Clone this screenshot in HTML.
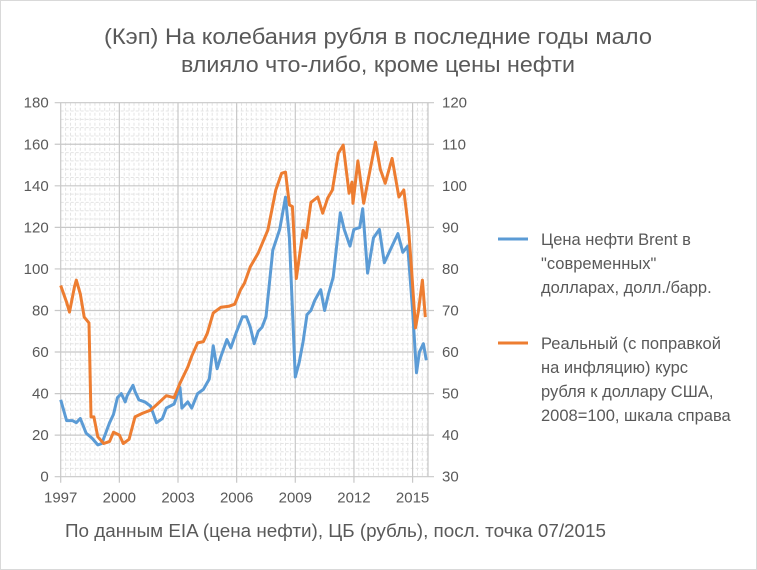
<!DOCTYPE html>
<html><head><meta charset="utf-8"><style>
body{margin:0;background:#fff;}
svg{display:block;font-family:"Liberation Sans","DejaVu Sans",sans-serif;}
</style></head><body>
<svg id="c" width="757" height="570" viewBox="0 0 757 570">
<rect x="0.5" y="0.5" width="756" height="569" fill="#fff" stroke="#d9d9d9"/>
<text x="378" y="44" text-anchor="middle" font-size="22.5" textLength="548" lengthAdjust="spacingAndGlyphs" fill="#595959">(Кэп) На колебания рубля в последние годы мало</text>
<text x="378" y="72" text-anchor="middle" font-size="22.5" textLength="394" lengthAdjust="spacingAndGlyphs" fill="#595959">влияло что-либо, кроме цены нефти</text>
<g id="grid"></g>
<g id="axes"></g>
<g id="series"></g>
<g>
<g>
<line x1="498" y1="239" x2="528" y2="239" stroke="#5b9bd5" stroke-width="3"/>
<text font-size="16.5" fill="#595959"><tspan x="541" y="245">Цена нефти Brent в</tspan><tspan x="541" y="269">"современных"</tspan><tspan x="541" y="293">долларах, долл./барр.</tspan></text>
</g>
<g>
<line x1="498" y1="343" x2="528" y2="343" stroke="#ed7d31" stroke-width="3"/>
<text font-size="16.5" fill="#595959"><tspan x="541" y="349">Реальный (с поправкой</tspan><tspan x="541" y="373">на инфляцию) курс</tspan><tspan x="541" y="397">рубля к доллару США,</tspan><tspan x="541" y="421">2008=100, шкала справа</tspan></text>
</g>
</g>
<text x="65" y="537" font-size="18" textLength="541" lengthAdjust="spacingAndGlyphs" fill="#595959">По данным EIA (цена нефти), ЦБ (рубль), посл. точка 07/2015</text>
</svg>
<script>
const leftTicks=[0,20,40,60,80,100,120,140,160,180];
const rightTicks=[30,40,50,60,70,80,90,100,110,120];
const yearTicks=[1997,2000,2003,2006,2009,2012,2015];
const brentT=[1997.0,1997.3,1997.6,1997.8,1998.0,1998.3,1998.6,1998.9,1999.1,1999.3,1999.5,1999.7,1999.9,2000.1,2000.3,2000.4,2000.7,2000.8,2001.0,2001.3,2001.6,2001.9,2002.2,2002.4,2002.8,2003.1,2003.2,2003.5,2003.7,2004.0,2004.3,2004.6,2004.8,2005.0,2005.2,2005.5,2005.7,2006.0,2006.3,2006.5,2006.7,2006.9,2007.1,2007.3,2007.5,2007.85,2008.2,2008.5,2008.7,2009.0,2009.2,2009.4,2009.6,2009.8,2010.0,2010.3,2010.5,2010.7,2010.94,2011.3,2011.5,2011.8,2012.0,2012.3,2012.45,2012.7,2013.0,2013.3,2013.55,2013.9,2014.25,2014.5,2014.75,2015.0,2015.2,2015.35,2015.55,2015.7];
const brentV=[37,27,27,26,28,21,18.6,15.3,16,21,26,30,38,40,36,39,44,41,37,36,34,26,28,33,35,43,33,36,33,40,42,47,63,52,58,66,62,70,77,77,72,64,70,72,77,109,119,134.5,115,48,55,65,78,80,85,90,80,88,96,127,119,111,119,120,129,98,115,119,103,110,117,108,111,80,50,60,64,56];
const rubT=[1997.0,1997.3,1997.45,1997.7,1997.8,1998.0,1998.2,1998.45,1998.55,1998.7,1998.9,1999.2,1999.5,1999.7,2000.0,2000.2,2000.5,2000.8,2001.2,2001.6,2002.0,2002.4,2002.8,2003.1,2003.5,2003.7,2004.0,2004.3,2004.5,2004.8,2005.2,2005.6,2005.9,2006.2,2006.4,2006.7,2007.1,2007.6,2008.0,2008.3,2008.5,2008.7,2008.85,2009.05,2009.4,2009.55,2009.8,2010.15,2010.4,2010.65,2010.9,2011.2,2011.45,2011.75,2011.9,2011.95,2012.2,2012.5,2012.75,2013.1,2013.35,2013.6,2013.95,2014.3,2014.55,2014.8,2014.95,2015.15,2015.3,2015.5,2015.65];
const rubV=[76,72,69.6,75.6,77.3,74,68.4,67,44.4,44.4,39.6,38,38.5,40.7,40,38,39,44.4,45.3,46,47.7,49.5,49,52.5,56.4,59,62.2,62.5,64.5,69.4,70.8,71,71.5,75,76.6,80.5,83.8,89.4,99,103,103.3,95.4,95,77.7,89.3,87.5,96,97.3,93.4,97,99,107.8,109.8,98.2,100.9,95.8,106,95.8,102,110.5,104,100.6,106.6,97.3,99,89.3,79.7,65.8,70,77.3,68.4];
const NS="http://www.w3.org/2000/svg";
const X0=60.7,PX_Y=19.55,YB=476.7,YT=102.7,XR=428;
const xs=t=>X0+(t-1997)*PX_Y;
const yl=v=>YB-(v/180)*(YB-YT);
const yr=v=>YB-((v-30)/90)*(YB-YT);
function mk(tag,attrs,parent){const e=document.createElementNS(NS,tag);for(const k in attrs)e.setAttribute(k,attrs[k]);parent.appendChild(e);return e;}
const grid=document.getElementById('grid'),axes=document.getElementById('axes'),ser=document.getElementById('series');
for(let v=0;v<=180;v+=4){if(v%20===0)continue;const l=mk('line',{x1:X0,x2:XR,y1:yl(v),y2:yl(v),stroke:'#e4e4e4','stroke-width':1,'stroke-dasharray':'3,2'},grid);

}
for(let t=1997.25;t<2015.95;t+=0.25){if(Math.abs((t-1997)%3)<0.01)continue;const l=mk('line',{x1:xs(t),x2:xs(t),y1:YT,y2:YB,stroke:'#e4e4e4','stroke-width':1,'stroke-dasharray':'3,2'},grid);

}
leftTicks.forEach(v=>{const l=mk('line',{x1:X0-6,x2:XR+6,y1:yl(v),y2:yl(v),stroke:'#c8c8c8','stroke-width':1.2},grid);


const t=mk('text',{x:X0-12,y:yl(v)+5,'text-anchor':'end','font-size':15,fill:'#595959'},axes);t.textContent=v;

});
rightTicks.forEach(v=>{const t=mk('text',{x:XR+14,y:yr(v)+5,'font-size':15,fill:'#595959'},axes);t.textContent=v;

});
yearTicks.forEach(y=>{const l=mk('line',{x1:xs(y),x2:xs(y),y1:YT,y2:YB+6,stroke:'#c8c8c8','stroke-width':1.2},grid);


const t=mk('text',{x:xs(y),y:YB+26,'text-anchor':'middle','font-size':15,fill:'#595959'},axes);t.textContent=y;

});
const ra=mk('line',{x1:XR,x2:XR,y1:YT,y2:YB,stroke:'#c8c8c8','stroke-width':1.2},axes);


const pb=mk('polyline',{points:brentT.map((t,i)=>xs(t).toFixed(1)+','+yl(brentV[i]).toFixed(1)).join(' '),fill:'none',stroke:'#5b9bd5','stroke-width':3,'stroke-linejoin':'round'},ser);


const pr=mk('polyline',{points:rubT.map((t,i)=>xs(t).toFixed(1)+','+yr(rubV[i]).toFixed(1)).join(' '),fill:'none',stroke:'#ed7d31','stroke-width':3,'stroke-linejoin':'round'},ser);


</script>
</body></html>
